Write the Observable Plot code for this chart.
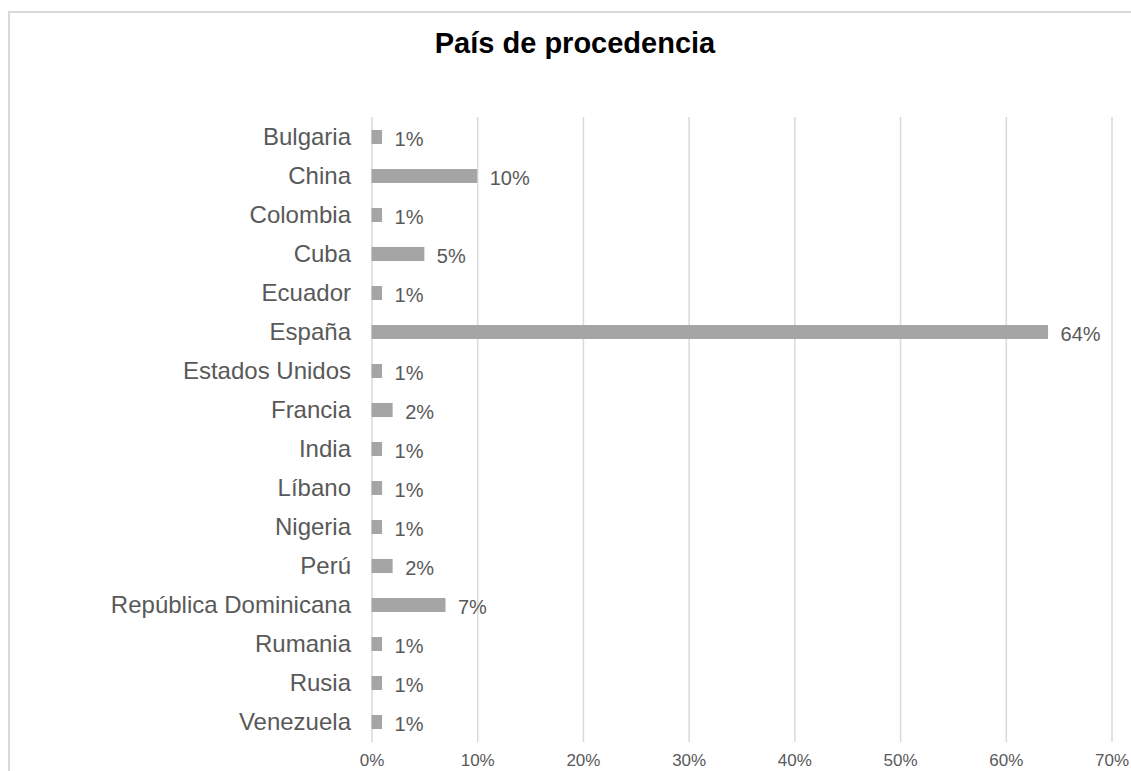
<!DOCTYPE html>
<html>
<head>
<meta charset="utf-8">
<script src="https://cdn.jsdelivr.net/npm/d3@7"></script>
<script src="https://cdn.jsdelivr.net/npm/@observablehq/plot@0.6"></script>
<style>
  html, body { margin: 0; padding: 0; background: #fff; width: 1131px; height: 771px; overflow: hidden; }
  body { position: relative; font-family: "Liberation Sans", Arial, sans-serif; }
  #frame { position: absolute; left: 8px; top: 11px; width: 1200px; height: 900px;
           border-top: 2px solid #d9d9d9; border-left: 2px solid #d9d9d9; }
  #title { position: absolute; left: 0; top: 26px; width: 1150px; text-align: center;
           font-size: 29px; line-height: 34px; font-weight: bold; color: #000; }
  #chart { position: absolute; left: 0; top: 100px; }
</style>
</head>
<body>
<div id="frame"></div>
<div id="title">País de procedencia</div>
<div id="chart"></div>
<script>
const countries = ["Bulgaria","China","Colombia","Cuba","Ecuador","España","Estados Unidos","Francia","India","Líbano","Nigeria","Perú","República Dominicana","Rumania","Rusia","Venezuela"];
const values = [1,10,1,5,1,64,1,2,1,1,1,2,7,1,1,1];
const xTicks = [0,10,20,30,40,50,60,70];

const data = countries.map((c, i) => ({country: c, value: values[i]}));

const chart = Plot.plot({
  width: 1131,
  height: 671,
  marginLeft: 371.5,
  marginRight: 19.5,
  marginTop: 17,
  marginBottom: 29,
  style: { fontFamily: "'Liberation Sans', Arial, sans-serif", color: "#595959", background: "transparent", overflow: "visible" },
  x: { domain: [0, 70], ticks: xTicks, tickFormat: d => d + "%" },
  y: { domain: countries, paddingInner: 0.64, paddingOuter: 0.32 },
  marks: [
    Plot.gridX(xTicks, { stroke: "#d9d9d9", strokeOpacity: 1, strokeWidth: 1.5 }),
    Plot.barX(data, { x: "value", y: "country", fill: "#a5a5a5" }),
    Plot.text(data, { x: "value", y: "country", text: d => d.value + "%", textAnchor: "start", dx: 12, dy: 2, fontSize: 20, fill: "#595959" }),
    Plot.axisX({ ticks: xTicks, tickFormat: d => d + "%", tickSize: 0, tickPadding: 11, fontSize: 17, fill: "#595959", label: null }),
    Plot.axisY({ tickSize: 0, tickPadding: 21, fontSize: 24, fill: "#595959", label: null })
  ]
});
document.getElementById("chart").appendChild(chart);
</script>
</body>
</html>
